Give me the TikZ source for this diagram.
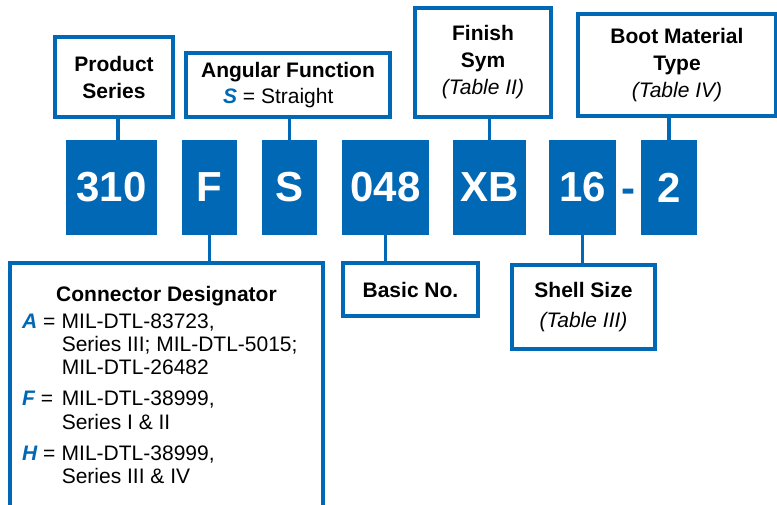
\documentclass[tikz,border=0pt]{standalone}
\usepackage{fontspec}
\setmainfont{Liberation Sans}
\usetikzlibrary{positioning}
\definecolor{partblue}{RGB}{0,104,180}
\tikzstyle{codebox}=[fill=partblue, text=white, minimum height=95, inner sep=0pt, font=\fontsize{42}{42}\selectfont\bfseries]
\tikzstyle{infobox}=[draw=partblue, line width=3.5pt, fill=white, align=center, inner sep=0pt, font=\fontsize{21}{27}\selectfont]
\tikzstyle{wire}=[draw=partblue, line width=3.5pt]
\newcommand{\keyletter}[1]{\textcolor{partblue}{\bfseries\itshape #1}}

\begin{document}
\begin{tikzpicture}[x=1pt,y=1pt]
\useasboundingbox (0,0) rectangle (777,504);
\clip (0,0) rectangle (777,504);

% part number
\node (c310) [codebox, minimum width=91] at (111.5,316.5) {310};
\node (cF) [codebox, minimum width=55] at (209.5,316.5) {F};
\node (cS) [codebox, minimum width=55] at (289.5,316.5) {S};
\node (c048) [codebox, minimum width=87] at (385.5,316.5) {048};
\node (cXB) [codebox, minimum width=73] at (489.5,316.5) {XB};
\node (c16) [codebox, minimum width=67] at (582.5,316.5) {16};
\node (c2) [codebox, minimum width=56] at (669,316.5) {2};
\node (dash) [anchor=base, text=partblue, font=\fontsize{42}{42}\selectfont\bfseries] at (628.5,301.5) {-};

% boxes above
\node (series) [infobox, minimum width=118, minimum height=80] at (114,427) {\textbf{Product}\\\textbf{Series}};
\node (angular) [infobox, minimum width=204, minimum height=64, align=left] at (288,419) {\textbf{Angular Function}\\[-1pt]\hspace*{1.05em}\keyletter{S} = Straight};
\node (finish) [infobox, minimum width=136, minimum height=109] at (483,441.5) {\textbf{Finish}\\\textbf{Sym}\\\textit{(Table II)}};
\node (boot) [infobox, minimum width=198, minimum height=102] at (677,439) {\textbf{Boot Material}\\\textbf{Type}\\\textit{(Table IV)}};

% boxes below
\node (desig) [infobox, minimum width=313, minimum height=260] at (166.5,111) {};
\node (basic) [infobox, minimum width=135, minimum height=53] at (410.5,214.5) {\textbf{Basic No.}};
\node (shell) [infobox, minimum width=143, minimum height=84, font=\fontsize{21}{30}\selectfont] at (583.5,197) {\textbf{Shell Size}\\\textit{(Table III)}};

\node (desigtitle) [anchor=base, font=\fontsize{21}{27}\selectfont\bfseries] at (166.5,202.5) {Connector Designator};
\node (desiglist) [anchor=north west, inner sep=0pt, font=\fontsize{21}{23.3}\selectfont] at (22,192.5) {%
\begin{tabular}{@{}l@{\hspace{0.3em}}l@{}}
\keyletter{A} = & MIL-DTL-83723,\\
 & Series III; MIL-DTL-5015;\\
 & MIL-DTL-26482\\[8pt]
\keyletter{F} = & MIL-DTL-38999,\\
 & Series I \& II\\[8pt]
\keyletter{H} = & MIL-DTL-38999,\\
 & Series III \& IV
\end{tabular}};

\draw [wire] ([xshift=6.5]c310.north) -- ([xshift=6.5]c310.north |- series.south);
\draw [wire] (cS.north) -- (cS.north |- angular.south);
\draw [wire] (cXB.north) -- (cXB.north |- finish.south);
\draw [wire] (c2.north) -- (c2.north |- boot.south);
\draw [wire] (cF.south) -- (cF.south |- desig.north);
\draw [wire] (c048.south) -- (c048.south |- basic.north);
\draw [wire] (c16.south) -- (c16.south |- shell.north);
\end{tikzpicture}
\end{document}
